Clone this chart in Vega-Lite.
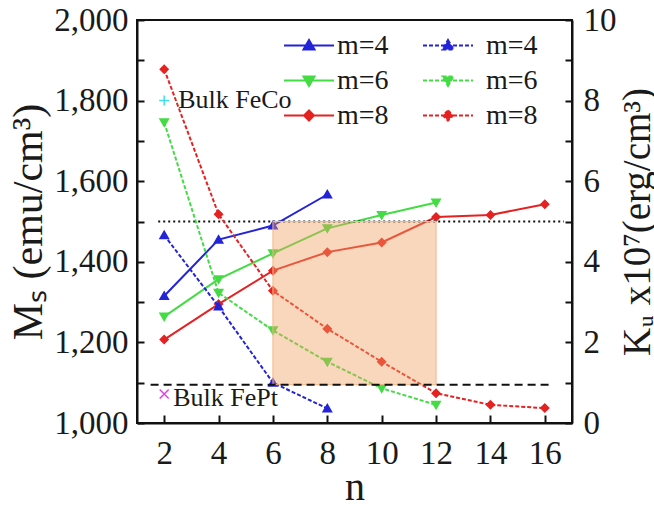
{
  "$schema": "https://vega.github.io/schema/vega-lite/v6.json",
  "width": 435,
  "height": 403,
  "autosize": {"type": "none"},
  "padding": {"left": 137, "top": 20, "right": 82, "bottom": 87},
  "background": "white",
  "config": {
    "font": "Liberation Serif",
    "view": {"stroke": "#111111", "strokeWidth": 2},
    "axis": {
      "grid": false,
      "domainColor": "#111111",
      "domainWidth": 2,
      "tickColor": "#111111",
      "tickWidth": 2,
      "tickSize": -7,
      "labelFont": "Liberation Serif",
      "labelFontSize": 33,
      "labelColor": "#1a1a1a",
      "titleFont": "Liberation Serif",
      "titleFontSize": 42,
      "titleFontWeight": "normal",
      "titleColor": "#1a1a1a"
    },
    "legend": {"padding": 0, "labelFont": "Liberation Serif", "labelFontSize": 28, "labelColor": "#1a1a1a"}
  },
  "datasets": {
    "ms": [
      {"m": "m=4", "n": 2, "Ms": 1315},
      {"m": "m=4", "n": 4, "Ms": 1455},
      {"m": "m=4", "n": 6, "Ms": 1490},
      {"m": "m=4", "n": 8, "Ms": 1567},
      {"m": "m=6", "n": 2, "Ms": 1264},
      {"m": "m=6", "n": 4, "Ms": 1357},
      {"m": "m=6", "n": 6, "Ms": 1421},
      {"m": "m=6", "n": 8, "Ms": 1483},
      {"m": "m=6", "n": 10, "Ms": 1516},
      {"m": "m=6", "n": 12, "Ms": 1547},
      {"m": "m=8", "n": 2, "Ms": 1207},
      {"m": "m=8", "n": 4, "Ms": 1295},
      {"m": "m=8", "n": 6, "Ms": 1378},
      {"m": "m=8", "n": 8, "Ms": 1424},
      {"m": "m=8", "n": 10, "Ms": 1448},
      {"m": "m=8", "n": 12, "Ms": 1511},
      {"m": "m=8", "n": 14, "Ms": 1516},
      {"m": "m=8", "n": 16, "Ms": 1543}
    ],
    "ku": [
      {"m": "m=4", "n": 2, "Ku": 4.66},
      {"m": "m=4", "n": 4, "Ku": 2.89},
      {"m": "m=4", "n": 6, "Ku": 1.0},
      {"m": "m=4", "n": 8, "Ku": 0.36},
      {"m": "m=6", "n": 2, "Ku": 7.46},
      {"m": "m=6", "n": 4, "Ku": 3.23},
      {"m": "m=6", "n": 6, "Ku": 2.3},
      {"m": "m=6", "n": 8, "Ku": 1.52},
      {"m": "m=6", "n": 10, "Ku": 0.86},
      {"m": "m=6", "n": 12, "Ku": 0.45},
      {"m": "m=8", "n": 2, "Ku": 8.78},
      {"m": "m=8", "n": 4, "Ku": 5.18},
      {"m": "m=8", "n": 6, "Ku": 3.28},
      {"m": "m=8", "n": 8, "Ku": 2.34},
      {"m": "m=8", "n": 10, "Ku": 1.52},
      {"m": "m=8", "n": 12, "Ku": 0.74},
      {"m": "m=8", "n": 14, "Ku": 0.45},
      {"m": "m=8", "n": 16, "Ku": 0.37}
    ]
  },
  "layer": [
    {
      "layer": [
        {
          "data": {"name": "ms"},
          "mark": {"type": "line", "strokeWidth": 2},
          "encoding": {
            "x": {"field": "n", "type": "quantitative", "title": "n", "scale": {"domain": [1, 17], "nice": false, "zero": false}, "axis": {"values": [2, 4, 6, 8, 10, 12, 14, 16], "tickSize": -8, "labelPadding": 22, "titlePadding": -3, "titleFontSize": 40}},
            "y": {"field": "Ms", "type": "quantitative", "title": "Mₛ (emu/cm³)", "scale": {"domain": [1000, 2000], "nice": false, "zero": false}, "axis": {"orient": "left", "values": [1000, 1100, 1200, 1300, 1400, 1500, 1600, 1700, 1800, 1900, 2000], "labelExpr": "datum.value % 200 === 0 ? format(datum.value, ',') : ''", "labelPadding": 16, "titlePadding": 3}},
            "color": {"field": "m", "type": "nominal", "scale": {"domain": ["m=4", "m=6", "m=8"], "range": ["#2323d8", "#44dc44", "#e42222"]},
              "legend": {"orient": "none", "legendX": 146, "legendY": 8, "title": null, "symbolSize": 2500, "symbolStrokeWidth": 2, "symbolOpacity": 1, "clipHeight": 35, "rowPadding": 0, "labelOffset": 2,
                "encode": {"symbols": {"update": {"stroke": {"signal": "datum.value === 'm=4' ? '#2323d8' : datum.value === 'm=6' ? '#44dc44' : '#e42222'"}}}}}}
          }
        },
        {
          "data": {"name": "ms"},
          "mark": {"type": "point", "filled": true, "size": 2500, "strokeWidth": 0, "opacity": 1},
          "encoding": {
            "x": {"field": "n", "type": "quantitative", "title": "n"},
            "y": {"field": "Ms", "type": "quantitative", "title": "Mₛ (emu/cm³)"},
            "color": {"field": "m", "type": "nominal",
              "legend": {"orient": "none", "legendX": 146, "legendY": 8, "title": null, "symbolSize": 2500, "symbolStrokeWidth": 2, "symbolOpacity": 1, "clipHeight": 35, "rowPadding": 0, "labelOffset": 2,
                "encode": {"symbols": {"update": {"stroke": {"signal": "datum.value === 'm=4' ? '#2323d8' : datum.value === 'm=6' ? '#44dc44' : '#e42222'"}}}}}},
            "shape": {"field": "m", "type": "nominal", "scale": {"domain": ["m=4", "m=6", "m=8"], "range": ["M-1,0H1M0,-0.22L0.22,0.16L-0.22,0.16Z", "M-1,0H1M0,0.22L0.22,-0.16L-0.22,-0.16Z", "M-1,0H1M0,-0.2L0.2,0L0,0.2L-0.2,0Z"]},
              "legend": {"orient": "none", "legendX": 146, "legendY": 8, "title": null, "symbolSize": 2500, "symbolStrokeWidth": 2, "symbolOpacity": 1, "clipHeight": 35, "rowPadding": 0, "labelOffset": 2,
                "encode": {"symbols": {"update": {"stroke": {"signal": "datum.value === 'm=4' ? '#2323d8' : datum.value === 'm=6' ? '#44dc44' : '#e42222'"}}}}}}
          }
        },
        {
          "data": {"values": [{"x1": 1.78, "x2": 16.7, "v": 1500}]},
          "mark": {"type": "rule", "color": "#111111", "strokeWidth": 2, "strokeDash": [2, 3]},
          "encoding": {
            "x": {"field": "x1", "type": "quantitative", "title": "n"},
            "x2": {"field": "x2"},
            "y": {"field": "v", "type": "quantitative", "title": "Mₛ (emu/cm³)"}
          }
        },
        {
          "data": {"values": [{"label": "Bulk FeCo", "n": 2, "Ms": 1800}]},
          "layer": [
            {"mark": {"type": "point", "shape": "M-1,0H1M0,-1V1", "filled": false, "size": 100, "stroke": "#3fe0f0", "strokeWidth": 1.5, "opacity": 1}},
            {"mark": {"type": "text", "align": "left", "baseline": "alphabetic", "dx": 14, "dy": 7, "fontSize": 26, "font": "Liberation Serif", "color": "#1a1a1a"}, "encoding": {"text": {"field": "label"}}}
          ],
          "encoding": {
            "x": {"field": "n", "type": "quantitative", "title": "n"},
            "y": {"field": "Ms", "type": "quantitative", "title": "Mₛ (emu/cm³)"}
          }
        },
        {
          "data": {"values": [{"label": "Bulk FePt", "n": 2, "Ms": 1072}]},
          "layer": [
            {"mark": {"type": "point", "shape": "M-1,-1L1,1M-1,1L1,-1", "filled": false, "size": 80, "stroke": "#e040e0", "strokeWidth": 1.5, "opacity": 1}},
            {"mark": {"type": "text", "align": "left", "baseline": "alphabetic", "dx": 9, "dy": 12, "fontSize": 26, "font": "Liberation Serif", "color": "#1a1a1a"}, "encoding": {"text": {"field": "label"}}}
          ],
          "encoding": {
            "x": {"field": "n", "type": "quantitative", "title": "n"},
            "y": {"field": "Ms", "type": "quantitative", "title": "Mₛ (emu/cm³)"}
          }
        }
      ]
    },
    {
      "layer": [
        {
          "data": {"name": "ku"},
          "mark": {"type": "line", "strokeWidth": 2, "strokeDash": [4, 2]},
          "encoding": {
            "x": {"field": "n", "type": "quantitative", "title": "n"},
            "y": {"field": "Ku", "type": "quantitative", "title": "Kᵤ x10⁷(erg/cm³)", "scale": {"domain": [0, 10], "nice": false}, "axis": {"orient": "right", "values": [0, 1, 2, 3, 4, 5, 6, 7, 8, 9, 10], "labelExpr": "datum.value % 2 === 0 ? datum.value : ''", "labelPadding": 18, "titleAngle": 270, "titleBaseline": "top", "titlePadding": 2, "titleFontSize": 39}},
            "color": {"field": "m", "type": "nominal", "scale": {"domain": ["m=4", "m=6", "m=8"], "range": ["#2323d8", "#44dc44", "#e42222"]},
              "legend": {"orient": "none", "legendX": 285, "legendY": 8, "title": null, "symbolSize": 2500, "symbolStrokeWidth": 2, "symbolOpacity": 1, "symbolDash": [4, 2], "clipHeight": 35, "rowPadding": 0, "labelOffset": 12,
                "encode": {"symbols": {"update": {"stroke": {"signal": "datum.value === 'm=4' ? '#2323d8' : datum.value === 'm=6' ? '#44dc44' : '#e42222'"}}}}}}
          }
        },
        {
          "data": {"name": "ku"},
          "mark": {"type": "point", "filled": true, "size": 2500, "strokeWidth": 0, "opacity": 1},
          "encoding": {
            "x": {"field": "n", "type": "quantitative", "title": "n"},
            "y": {"field": "Ku", "type": "quantitative", "title": "Kᵤ x10⁷(erg/cm³)"},
            "color": {"field": "m", "type": "nominal",
              "legend": {"orient": "none", "legendX": 285, "legendY": 8, "title": null, "symbolSize": 2500, "symbolStrokeWidth": 2, "symbolOpacity": 1, "symbolDash": [4, 2], "clipHeight": 35, "rowPadding": 0, "labelOffset": 12,
                "encode": {"symbols": {"update": {"stroke": {"signal": "datum.value === 'm=4' ? '#2323d8' : datum.value === 'm=6' ? '#44dc44' : '#e42222'"}}}}}},
            "shape": {"field": "m", "type": "nominal", "scale": {"domain": ["m=4", "m=6", "m=8"], "range": ["M-1,0H1M0,-0.22L0.22,0.16L-0.22,0.16Z", "M-1,0H1M0,0.22L0.22,-0.16L-0.22,-0.16Z", "M-1,0H1M0,-0.2L0.2,0L0,0.2L-0.2,0Z"]},
              "legend": {"orient": "none", "legendX": 285, "legendY": 8, "title": null, "symbolSize": 2500, "symbolStrokeWidth": 2, "symbolOpacity": 1, "symbolDash": [4, 2], "clipHeight": 35, "rowPadding": 0, "labelOffset": 12,
                "encode": {"symbols": {"update": {"stroke": {"signal": "datum.value === 'm=4' ? '#2323d8' : datum.value === 'm=6' ? '#44dc44' : '#e42222'"}}}}}}
          }
        },
        {
          "data": {"values": [{"x1": 6, "x2": 12, "k1": 5, "k2": 0.95}]},
          "mark": {"type": "rect", "fill": "#f0a060", "fillOpacity": 0.42, "stroke": "#f6b684", "strokeWidth": 1},
          "encoding": {
            "x": {"field": "x1", "type": "quantitative", "title": "n"},
            "x2": {"field": "x2"},
            "y": {"field": "k1", "type": "quantitative", "title": "Kᵤ x10⁷(erg/cm³)"},
            "y2": {"field": "k2"}
          }
        },
        {
          "data": {"values": [{"x1": 1.5, "x2": 16.3, "k": 0.95}]},
          "mark": {"type": "rule", "color": "#111111", "strokeWidth": 2, "strokeDash": [8, 5]},
          "encoding": {
            "x": {"field": "x1", "type": "quantitative", "title": "n"},
            "x2": {"field": "x2"},
            "y": {"field": "k", "type": "quantitative", "title": "Kᵤ x10⁷(erg/cm³)"}
          }
        }
      ]
    }
  ],
  "resolve": {"scale": {"y": "independent", "color": "independent", "shape": "independent"}}
}
